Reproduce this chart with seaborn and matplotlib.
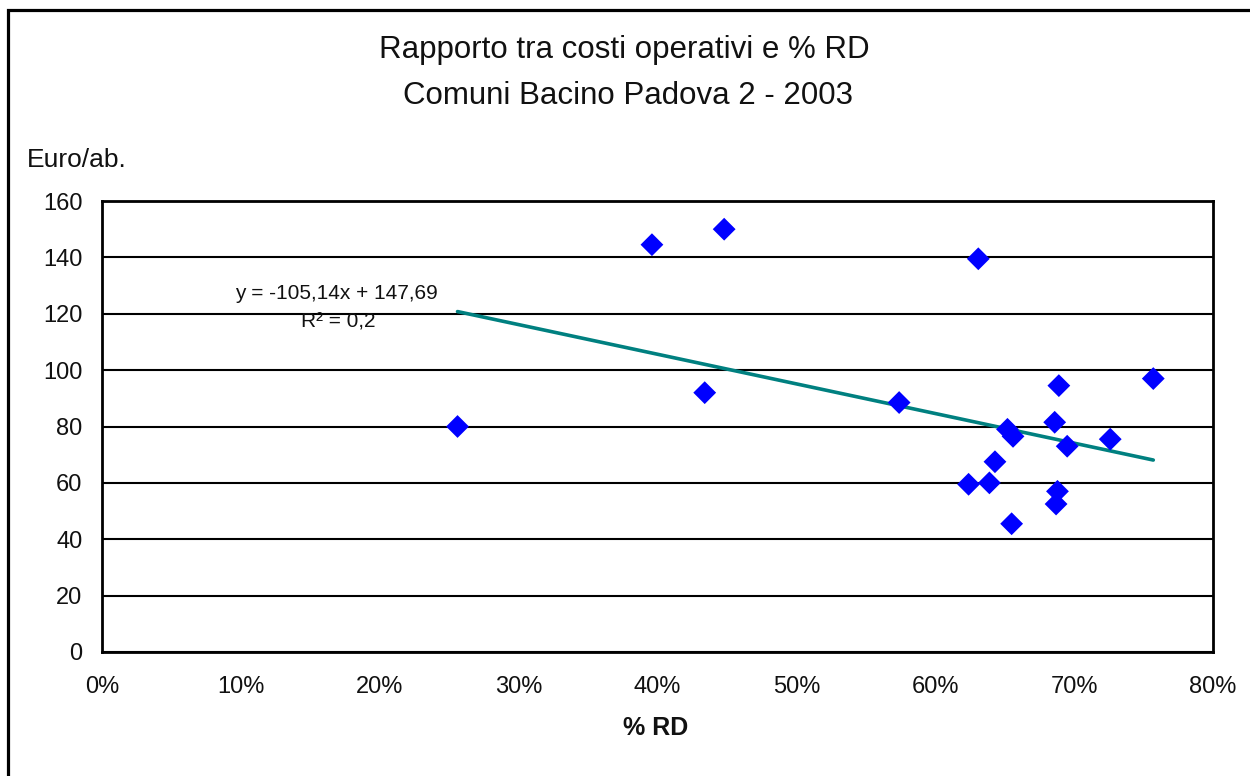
import matplotlib
matplotlib.use("Agg")
import matplotlib.pyplot as plt
from matplotlib.patches import Rectangle
from matplotlib.ticker import PercentFormatter
import numpy as np
import pandas as pd
import seaborn as sns

# Share of separate collection (% RD) per municipality, as a fraction
rd_share = [0.256, 0.396, 0.448, 0.434, 0.631, 0.574, 0.689, 0.757, 0.686, 0.652,
            0.656, 0.695, 0.726, 0.643, 0.624, 0.639, 0.688, 0.687, 0.655]
# Operating costs, euro per inhabitant
cost_per_inh = [80.0, 144.5, 150.0, 92.0, 139.5, 88.5, 94.5, 97.0, 81.5, 79.0,
                76.5, 73.0, 75.5, 67.5, 59.5, 60.0, 57.0, 52.5, 45.5]

# Linear trend line and its fit statistic
trend_slope = -105.14
trend_intercept = 147.69
trend_r2 = 0.2

title_lines = ["Rapporto tra costi operativi e % RD", "Comuni Bacino Padova 2 - 2003"]
y_unit_label = "Euro/ab."
x_label = "% RD"
x_ticks = [0.0, 0.1, 0.2, 0.3, 0.4, 0.5, 0.6, 0.7, 0.8]
y_ticks = [0, 20, 40, 60, 80, 100, 120, 140, 160]

df = pd.DataFrame({"rd": rd_share, "cost": cost_per_inh})
trend_x = np.array([min(rd_share), max(rd_share)])
trend = pd.DataFrame({"rd": trend_x, "cost": trend_slope * trend_x + trend_intercept})

sns.set_style("white")
plt.rcParams["font.family"] = ["Liberation Sans", "DejaVu Sans"]

W, H = 1250, 776
fig = plt.figure(figsize=(W / 100, H / 100), dpi=100)
ax = fig.add_axes([102 / W, 1 - 652 / H, (1213 - 102) / W, (652 - 201) / H])

sns.lineplot(data=trend, x="rd", y="cost", ax=ax, color="#008080", lw=2.6, zorder=3)
sns.scatterplot(data=df, x="rd", y="cost", ax=ax, marker="D", s=135,
                color="#0000FF", edgecolor="none", linewidth=0, zorder=4)

ax.set_xlim(x_ticks[0], x_ticks[-1])
ax.set_ylim(y_ticks[0], y_ticks[-1])
ax.set_xticks(x_ticks)
ax.set_yticks(y_ticks)
ax.xaxis.set_major_formatter(PercentFormatter(1.0, decimals=0))

ax.yaxis.grid(True, color="black", lw=1.5)
ax.xaxis.grid(False)
ax.set_axisbelow(True)
for sp in ax.spines.values():
    sp.set_visible(True)
    sp.set_color("black")
    sp.set_linewidth(2)

ax.tick_params(axis="both", direction="out", length=7, width=2, color="black",
               labelsize=17, labelcolor="#111111")
ax.tick_params(axis="x", pad=10)
ax.tick_params(axis="y", pad=7)

ax.set_ylabel("")
ax.set_xlabel(x_label, fontsize=18, fontweight="bold", color="#111111", va="center")
ax.xaxis.set_label_coords((656 - 102) / (1213 - 102), -(728 - 652) / (652 - 201))

# Trend line equation, placed left of the line's start
eq = f"y = {trend_slope:.2f}x + {trend_intercept:.2f}".replace(".", ",")
r2 = f"R² = {trend_r2:g}".replace(".", ",")
ax.text(0.169, 127.3, eq, ha="center", va="center", fontsize=15, color="#111111")
ax.text(0.170, 117.0, r2, ha="center", va="center", fontsize=15, color="#111111")

fig.text(624 / W, 1 - 50 / H, title_lines[0], ha="center", va="center",
         fontsize=22.5, color="#111111")
fig.text(628 / W, 1 - 96 / H, title_lines[1], ha="center", va="center",
         fontsize=22.5, color="#111111")
fig.text(27 / W, 1 - 160 / H, y_unit_label, ha="left", va="center",
         fontsize=19, color="#111111")

# Chart border
fig.add_artist(Rectangle((8 / W, -0.05), 1.2, 1 - 10 / H + 0.05,
                         transform=fig.transFigure, fill=False,
                         ec="black", lw=2.3, clip_on=False))

fig.savefig("out.png", dpi=100, facecolor="white")
